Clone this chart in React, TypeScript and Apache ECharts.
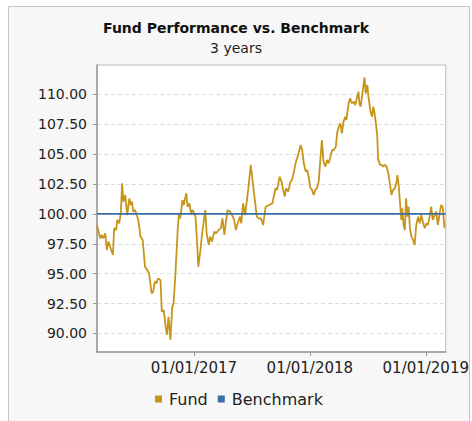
import React, { useEffect, useRef } from "react";
import * as echarts from "echarts";

const title = "Fund Performance vs. Benchmark";
const subtitle = "3 years";
const seriesNames = ["Fund", "Benchmark"];

const fundDates = [
  "2016-03-02","2016-03-12","2016-03-17","2016-03-22","2016-03-28","2016-04-02","2016-04-07","2016-04-14","2016-04-21","2016-04-25",
  "2016-05-01","2016-05-05","2016-05-11","2016-05-16","2016-05-20","2016-05-24","2016-05-30","2016-06-05","2016-06-12","2016-06-16",
  "2016-06-20","2016-06-24","2016-06-30","2016-07-10","2016-07-17","2016-07-24","2016-07-31","2016-08-07","2016-08-13","2016-08-21",
  "2016-08-26","2016-08-31","2016-09-05","2016-09-10","2016-09-18","2016-09-22","2016-09-28","2016-10-04","2016-10-08","2016-10-13",
  "2016-10-19","2016-10-25","2016-10-29","2016-11-04","2016-11-11","2016-11-15","2016-11-19","2016-11-26","2016-11-30","2016-12-08",
  "2016-12-12","2016-12-18","2016-12-23","2016-12-28","2017-01-06","2017-01-10","2017-01-15","2017-01-21","2017-01-27","2017-02-03",
  "2017-02-06","2017-02-10","2017-02-17","2017-02-21","2017-02-27","2017-03-06","2017-03-12","2017-03-20","2017-03-27","2017-04-01",
  "2017-04-07","2017-04-12","2017-04-17","2017-04-25","2017-05-01","2017-05-08","2017-05-13","2017-05-19","2017-05-26","2017-05-30",
  "2017-06-05","2017-06-11","2017-06-21","2017-06-29","2017-07-07","2017-07-18","2017-07-25","2017-07-31","2017-08-07","2017-08-15",
  "2017-08-26","2017-09-05","2017-09-15","2017-09-20","2017-09-28","2017-10-04","2017-10-08","2017-10-14","2017-10-18","2017-10-25",
  "2017-11-01","2017-11-06","2017-11-12","2017-11-17","2017-11-25","2017-12-03","2017-12-08","2017-12-13","2017-12-19","2017-12-24",
  "2017-12-29","2018-01-03","2018-01-08","2018-01-13","2018-01-18","2018-01-23","2018-01-29","2018-02-03","2018-02-08","2018-02-13",
  "2018-02-19","2018-02-24","2018-03-01","2018-03-07","2018-03-12","2018-03-17","2018-03-24","2018-03-28","2018-04-01","2018-04-07",
  "2018-04-12","2018-04-17","2018-04-23","2018-04-26","2018-05-03","2018-05-08","2018-05-13","2018-05-19","2018-05-24","2018-05-29",
  "2018-06-03","2018-06-06","2018-06-10","2018-06-17","2018-06-22","2018-06-26","2018-07-01","2018-07-05","2018-07-11","2018-07-16",
  "2018-07-20","2018-07-24","2018-07-29","2018-08-01","2018-08-04","2018-08-10","2018-08-15","2018-08-20","2018-08-25","2018-08-30",
  "2018-09-05","2018-09-10","2018-09-15","2018-09-20","2018-09-26","2018-10-01","2018-10-04","2018-10-08","2018-10-12","2018-10-16",
  "2018-10-19","2018-10-23","2018-10-27","2018-10-31","2018-11-04","2018-11-08","2018-11-12","2018-11-17","2018-11-22","2018-11-27",
  "2018-12-02","2018-12-08","2018-12-13","2018-12-18","2018-12-24","2018-12-29","2019-01-03","2019-01-08","2019-01-13","2019-01-18",
  "2019-01-23","2019-01-29","2019-02-03","2019-02-08","2019-02-13","2019-02-18","2019-02-23","2019-03-01",
];

const fundValues = [
  99.07, 97.96, 98.24, 97.96, 98.38, 96.98, 97.68, 97.12, 96.56, 98.8,
  98.65, 99.49, 99.21, 100.05, 102.56, 101.02, 101.58, 99.9, 101.3, 100.74,
  101.02, 100.18, 100.33, 99.49, 98.1, 97.82, 95.59, 95.31, 95.03, 93.36,
  93.5, 94.33, 94.2, 94.6, 94.47, 91.82, 91.96, 90.57, 89.88, 91.4,
  89.47, 92.24, 92.52, 95.03, 98.65, 100.05, 99.63, 101.16, 100.74, 101.72,
  100.6, 100.88, 100.05, 100.33, 99.77, 98.1, 95.59, 96.84, 98.38, 99.77,
  100.33, 98.38, 97.4, 98.1, 97.68, 98.52, 98.38, 98.65, 98.79, 99.63,
  98.24, 99.35, 100.33, 100.18, 99.9, 99.49, 98.65, 99.21, 99.77, 99.21,
  100.88, 99.9, 102.0, 104.09, 102.28, 99.77, 99.6, 99.63, 99.07, 100.6,
  100.74, 100.88, 102.14, 102.0, 103.11, 102.69, 102.14, 101.44, 102.14, 101.86,
  102.69, 102.83, 103.53, 104.23, 104.92, 105.76, 105.34, 104.23, 103.53, 103.67,
  102.98, 102.14, 102.0, 101.58, 102.0, 102.14, 102.69, 104.51, 106.18, 104.37,
  103.95, 104.51, 104.23, 104.78, 105.34, 105.34, 105.62, 106.74, 107.2, 107.58,
  106.74, 107.71, 108.13, 107.85, 109.25, 109.67, 109.25, 109.38, 109.1, 109.67,
  110.22, 109.25, 108.96, 110.36, 111.42, 110.08, 110.78, 109.67, 108.55, 108.13,
  108.96, 108.41, 107.29, 106.6, 104.6, 104.09, 104.1, 103.95, 104.09, 104.0,
  103.39, 102.56, 101.58, 102.0, 102.14, 102.69, 103.25, 102.28, 100.88, 99.49,
  100.47, 99.07, 98.65, 101.3, 99.77, 100.6, 98.8, 98.1, 97.82, 97.4,
  99.07, 99.77, 99.21, 99.9, 99.21, 98.8, 99.21, 99.07, 99.77, 100.6,
  99.49, 99.9, 100.18, 99.07, 99.9, 100.74, 100.6, 98.8,
];

const benchmarkDates = ["2016-03-02", "2019-03-05"];
const benchmarkValues = [100, 100];

const xTickDates = ["2017-01-01", "2018-01-01", "2019-01-01"];
const yTickValues = [90, 92.5, 95, 97.5, 100, 102.5, 105, 107.5, 110];
const yRange = [88.45, 112.45];
const xRange = ["2016-03-02", "2019-03-05"];

const ts = (d: string) => {
  const [y, m, dd] = d.split("-").map(Number);
  return Date.UTC(y, m - 1, dd);
};

const fmtDate = (v: number) => {
  const d = new Date(v);
  const p = (n: number) => String(n).padStart(2, "0");
  return `${p(d.getUTCMonth() + 1)}/${p(d.getUTCDate())}/${d.getUTCFullYear()}`;
};

const FONT = "DejaVu Sans";
const FUND_COLOR = "#c8951b";
const BENCH_COLOR = "#3b6ea8";

export default function App() {
  const ref = useRef<HTMLDivElement>(null);

  useEffect(() => {
    if (!ref.current) return;
    const chart = echarts.init(ref.current, undefined, { renderer: "svg" });
    chart.setOption({
      animation: false,
      backgroundColor: "#ffffff",
      graphic: [
        {
          type: "rect",
          z: -10,
          silent: true,
          shape: { x: 8.5, y: 6.5, width: 461, height: 430 },
          style: { fill: "#f7f7f7", stroke: "#c4c4c4", lineWidth: 1 },
        },
      ],
      title: {
        text: title,
        subtext: subtitle,
        left: "center",
        top: 20,
        itemGap: 4,
        padding: 0,
        textStyle: { fontFamily: FONT, fontSize: 14, fontWeight: "bold", color: "#111", lineHeight: 16 },
        subtextStyle: { fontFamily: FONT, fontSize: 14, color: "#222", lineHeight: 16 },
      },
      legend: {
        data: [
          { name: seriesNames[0], icon: "rect" },
          { name: seriesNames[1], icon: "rect" },
        ],
        left: 155,
        top: 391,
        padding: 0,
        itemWidth: 7,
        itemHeight: 7,
        itemGap: 10,
        textStyle: { fontFamily: FONT, fontSize: 16, color: "#222", padding: [0, 0, 0, 2] },
      },
      grid: { left: 97, top: 65, width: 351, height: 287, show: true, backgroundColor: "#ffffff", borderColor: "#b8b8b8", borderWidth: 1 },
      xAxis: {
        type: "value",
        min: ts(xRange[0]),
        max: ts(xRange[1]),
        axisLine: { show: true, lineStyle: { color: "#999", width: 1.5 } },
        axisTick: { show: true, length: 4, lineStyle: { color: "#999" }, customValues: xTickDates.map(ts) },
        axisLabel: {
          customValues: xTickDates.map(ts),
          formatter: (v: number) => fmtDate(v),
          fontFamily: FONT,
          fontSize: 15,
          color: "#222",
          margin: 8,
        },
        splitLine: { show: false },
      },
      yAxis: {
        type: "value",
        min: yRange[0],
        max: yRange[1],
        axisLine: { show: true, lineStyle: { color: "#999", width: 1.5 } },
        axisTick: { show: true, length: 4, lineStyle: { color: "#999" }, customValues: yTickValues },
        axisLabel: {
          customValues: yTickValues,
          formatter: (v: number) => v.toFixed(2),
          fontFamily: FONT,
          fontSize: 14,
          color: "#222",
          margin: 10,
        },
        splitLine: { show: true, lineStyle: { color: "#dcdcdc", type: [4, 3], width: 1 } },
      },
      series: [
        {
          name: seriesNames[0],
          type: "line",
          data: fundDates.map((d, i) => [ts(d), fundValues[i]]),
          showSymbol: false,
          symbol: "none",
          lineStyle: { color: FUND_COLOR, width: 1.8 },
          itemStyle: { color: FUND_COLOR },
        },
        {
          name: seriesNames[1],
          type: "line",
          data: benchmarkDates.map((d, i) => [ts(d), benchmarkValues[i]]),
          showSymbol: false,
          symbol: "none",
          lineStyle: { color: BENCH_COLOR, width: 1.6 },
          itemStyle: { color: BENCH_COLOR },
        },
      ],
    });
    return () => chart.dispose();
  }, []);

  return (
    <div style={{ position: "absolute", left: 0, top: 0, width: 472, height: 421, background: "#fff" }}>
      <div ref={ref} style={{ width: 472, height: 421 }} />
    </div>
  );
}
